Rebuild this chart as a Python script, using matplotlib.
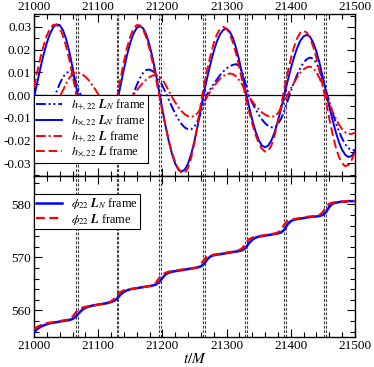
import numpy as np
import matplotlib
matplotlib.use("Agg")
import matplotlib.pyplot as plt
from matplotlib.ticker import MultipleLocator, FormatStrFormatter

plt.rcParams['font.family'] = 'Liberation Serif'
plt.rcParams['mathtext.fontset'] = 'stix'
plt.rcParams['axes.unicode_minus'] = False

t = np.arange(21000, 21501, 5)

hx_LN = [-0.0010, 0.0054, 0.0119, 0.0179, 0.0230, 0.0270, 0.0298, 0.0311, 0.0308, 0.0287,
         0.0247, 0.0191, 0.0123, 0.0047, -0.0024, -0.0081, -0.0133, -0.0178, -0.0212, -0.0233,
         -0.0240, -0.0233, -0.0212, -0.0178, -0.0133, -0.0081, -0.0024, 0.0043, 0.0113, 0.0176,
         0.0230, 0.0270, 0.0295, 0.0304, 0.0294, 0.0266, 0.0220, 0.0161, 0.0091, 0.0015,
         -0.0062, -0.0136, -0.0203, -0.0259, -0.0302, -0.0328, -0.0337, -0.0328, -0.0302, -0.0259,
         -0.0203, -0.0136, -0.0062, 0.0013, 0.0078, 0.0138, 0.0192, 0.0236, 0.0268, 0.0287,
         0.0292, 0.0279, 0.0251, 0.0206, 0.0150, 0.0085, 0.0014, -0.0049, -0.0108, -0.0158,
         -0.0197, -0.0222, -0.0230, -0.0222, -0.0199, -0.0163, -0.0115, -0.0060, 0.0000, 0.0059,
         0.0115, 0.0165, 0.0207, 0.0239, 0.0258, 0.0265, 0.0257, 0.0232, 0.0192, 0.0140,
         0.0079, 0.0014, -0.0049, -0.0107, -0.0161, -0.0206, -0.0241, -0.0263, -0.0273, -0.0268,
         -0.0248]

hx_L = [0.0034, 0.0102, 0.0164, 0.0218, 0.0262, 0.0293, 0.0309, 0.0310, 0.0295, 0.0262,
        0.0215, 0.0156, 0.0088, 0.0015, -0.0049, -0.0108, -0.0161, -0.0204, -0.0237, -0.0255,
        -0.0260, -0.0248, -0.0221, -0.0179, -0.0126, -0.0065, 0.0000, 0.0075, 0.0146, 0.0208,
        0.0258, 0.0292, 0.0308, 0.0307, 0.0288, 0.0253, 0.0203, 0.0142, 0.0073, 0.0000,
        -0.0071, -0.0138, -0.0200, -0.0254, -0.0296, -0.0326, -0.0342, -0.0343, -0.0321, -0.0275,
        -0.0209, -0.0128, -0.0037, 0.0043, 0.0112, 0.0174, 0.0227, 0.0267, 0.0292, 0.0300,
        0.0292, 0.0269, 0.0231, 0.0181, 0.0121, 0.0055, -0.0012, -0.0071, -0.0125, -0.0173,
        -0.0210, -0.0236, -0.0249, -0.0246, -0.0221, -0.0177, -0.0116, -0.0045, 0.0028, 0.0095,
        0.0157, 0.0210, 0.0250, 0.0275, 0.0283, 0.0275, 0.0252, 0.0214, 0.0164, 0.0105,
        0.0040, -0.0030, -0.0102, -0.0169, -0.0227, -0.0271, -0.0300, -0.0313, -0.0308, -0.0286,
        -0.0250]

hp_LN = [-0.0118, -0.0120, -0.0115, -0.0102, -0.0080, -0.0052, -0.0020, 0.0015, 0.0049, 0.0078,
         0.0097, 0.0103, 0.0092, 0.0062, 0.0019, -0.0016, -0.0042, -0.0067, -0.0088, -0.0106,
         -0.0119, -0.0127, -0.0130, -0.0128, -0.0122, -0.0112, -0.0098, -0.0082, -0.0062, -0.0041,
         -0.0018, 0.0007, 0.0043, 0.0074, 0.0098, 0.0111, 0.0112, 0.0105, 0.0090, 0.0068,
         0.0042, 0.0012, -0.0020, -0.0052, -0.0082, -0.0107, -0.0128, -0.0143, -0.0151, -0.0151,
         -0.0139, -0.0114, -0.0079, -0.0036, 0.0005, 0.0027, 0.0049, 0.0069, 0.0088, 0.0104,
         0.0117, 0.0127, 0.0133, 0.0136, 0.0128, 0.0096, 0.0047, -0.0006, -0.0034, -0.0061,
         -0.0086, -0.0107, -0.0124, -0.0136, -0.0142, -0.0142, -0.0129, -0.0104, -0.0069, -0.0027,
         0.0016, 0.0054, 0.0089, 0.0119, 0.0143, 0.0158, 0.0165, 0.0160, 0.0141, 0.0109,
         0.0068, 0.0020, -0.0028, -0.0075, -0.0119, -0.0158, -0.0191, -0.0217, -0.0234, -0.0242,
         -0.0242]

hp_L = [-0.0075, -0.0080, -0.0081, -0.0079, -0.0071, -0.0060, -0.0045, -0.0027, -0.0008, 0.0020,
        0.0050, 0.0075, 0.0092, 0.0100, 0.0098, 0.0092, 0.0081, 0.0066, 0.0047, 0.0027,
        0.0004, -0.0021, -0.0045, -0.0065, -0.0080, -0.0089, -0.0089, -0.0083, -0.0069, -0.0049,
        -0.0026, 0.0000, 0.0020, 0.0038, 0.0055, 0.0069, 0.0079, 0.0086, 0.0088, 0.0083,
        0.0068, 0.0046, 0.0018, -0.0009, -0.0032, -0.0053, -0.0071, -0.0085, -0.0093, -0.0096,
        -0.0092, -0.0079, -0.0059, -0.0034, -0.0006, 0.0017, 0.0037, 0.0056, 0.0072, 0.0084,
        0.0092, 0.0095, 0.0092, 0.0082, 0.0065, 0.0043, 0.0017, -0.0008, -0.0027, -0.0046,
        -0.0062, -0.0076, -0.0086, -0.0093, -0.0096, -0.0093, -0.0080, -0.0058, -0.0031, 0.0000,
        0.0028, 0.0054, 0.0078, 0.0098, 0.0113, 0.0122, 0.0125, 0.0119, 0.0101, 0.0074,
        0.0039, 0.0000, -0.0036, -0.0071, -0.0102, -0.0129, -0.0150, -0.0164, -0.0171, -0.0171,
        -0.0166]

phi_LN = [555.9, 556.5, 556.9, 557.2, 557.4, 557.6, 557.7, 557.8, 557.9, 558.0,
          558.1, 558.2, 558.4, 558.8, 559.5, 560.1, 560.5, 560.7, 560.9, 561.0,
          561.1, 561.2, 561.3, 561.4, 561.6, 561.8, 562.3, 563.0, 563.5, 563.8,
          564.0, 564.1, 564.2, 564.3, 564.4, 564.5, 564.6, 564.7, 564.9, 565.3,
          566.1, 566.8, 567.1, 567.3, 567.4, 567.5, 567.6, 567.7, 567.8, 567.9,
          568.0, 568.1, 568.3, 568.8, 569.6, 570.2, 570.4, 570.5, 570.6, 570.7,
          570.8, 570.9, 571.0, 571.1, 571.2, 571.4, 571.8, 572.7, 573.3, 573.7,
          573.9, 574.0, 574.1, 574.2, 574.3, 574.4, 574.5, 574.7, 575.2, 576.2,
          576.8, 577.1, 577.2, 577.3, 577.4, 577.5, 577.6, 577.7, 577.7, 577.8,
          578.0, 578.5, 579.5, 580.1, 580.3, 580.4, 580.5, 580.5, 580.6, 580.6,
          580.6]

phi_L = [556.5, 556.9, 557.2, 557.4, 557.6, 557.7, 557.8, 557.9, 558.0, 558.1,
         558.2, 558.4, 558.8, 559.6, 560.2, 560.5, 560.7, 560.8, 560.9, 561.0,
         561.1, 561.2, 561.3, 561.5, 561.7, 562.2, 563.0, 563.5, 563.8, 563.9,
         564.0, 564.1, 564.2, 564.3, 564.4, 564.5, 564.6, 564.8, 565.2, 566.1,
         566.8, 567.1, 567.3, 567.4, 567.5, 567.6, 567.7, 567.7, 567.8, 567.9,
         568.0, 568.2, 568.7, 569.6, 570.2, 570.4, 570.5, 570.6, 570.7, 570.8,
         570.9, 571.0, 571.1, 571.2, 571.4, 571.8, 572.7, 573.4, 573.7, 573.9,
         574.0, 574.1, 574.2, 574.3, 574.4, 574.5, 574.7, 575.2, 576.2, 576.8,
         577.1, 577.2, 577.3, 577.4, 577.5, 577.6, 577.7, 577.7, 577.8, 578.0,
         578.5, 579.5, 580.1, 580.3, 580.4, 580.5, 580.5, 580.6, 580.6, 580.6,
         580.6]

vlines_t = [21065, 21068.5, 21129, 21131.5, 21195, 21198, 21263, 21266,
            21329, 21332, 21389, 21392, 21452, 21455]

fig = plt.figure(figsize=(3.74, 3.67), dpi=100)
ax1 = fig.add_axes([0.0909, 0.520, 0.858, 0.442])
ax2 = fig.add_axes([0.0909, 0.0817, 0.858, 0.4383])

blue = '#0000ff'
red = '#ff0000'
lw = 1.4

ax1.axhline(0, color='black', lw=0.9, zorder=1)
for v in vlines_t:
    ax1.axvline(v, color='0.25', lw=0.8, ls=(0, (2.5, 1.5)), zorder=1)
    ax2.axvline(v, color='0.25', lw=0.8, ls=(0, (2.5, 1.5)), zorder=1)

ax1.plot(t, hp_LN, color=blue, lw=lw, ls=(0, (5, 1.5, 1, 1.5, 1, 1.5)),
         label=r'$h_{+,22}$ $\boldsymbol{L}_N$ frame', zorder=3)
ax1.plot(t, hx_LN, color=blue, lw=lw, ls='-',
         label=r'$h_{\times,22}$ $\boldsymbol{L}_N$ frame', zorder=3)
ax1.plot(t, hp_L, color=red, lw=lw, ls=(0, (5, 1.5, 1, 1.5)),
         label=r'$h_{+,22}$ $\boldsymbol{L}$ frame', zorder=3)
ax1.plot(t, hx_L, color=red, lw=lw, ls=(0, (4.5, 2)),
         label=r'$h_{\times,22}$ $\boldsymbol{L}$ frame', zorder=3)

ax2.plot(t, phi_LN, color=blue, lw=1.8, ls='-',
         label=r'$\phi_{22}$ $\boldsymbol{L}_N$ frame', zorder=3)
ax2.plot(t, phi_L, color=red, lw=1.6, ls=(0, (4, 2)),
         label=r'$\phi_{22}$ $\boldsymbol{L}$ frame', zorder=3)

ax1.set_xlim(21000, 21500)
ax2.set_xlim(21000, 21500)
ax1.set_ylim(-0.0357, 0.0357)
ax2.set_ylim(555, 585.3)

for ax in (ax1, ax2):
    ax.xaxis.set_major_locator(MultipleLocator(100))
    ax.xaxis.set_minor_locator(MultipleLocator(20))
    ax.tick_params(which='both', direction='in', top=True, right=True,
                   labelsize=9.5, width=0.8)
    ax.tick_params(which='major', length=6)
    ax.tick_params(which='minor', length=3.5)
    for s in ax.spines.values():
        s.set_linewidth(1.0)

ax1.yaxis.set_major_locator(MultipleLocator(0.01))
ax1.yaxis.set_minor_locator(MultipleLocator(0.005))
ax1.yaxis.set_major_formatter(FormatStrFormatter('%.2f'))
ax1.tick_params(axis='x', labeltop=True, labelbottom=False, pad=0.5)
ax1.tick_params(axis='y', pad=2)
ax2.tick_params(axis='y', pad=2)

ax2.yaxis.set_major_locator(MultipleLocator(10))
ax2.yaxis.set_minor_locator(MultipleLocator(2))
ax2.tick_params(axis='x', pad=2)
ax2.set_xlabel(r'$t/M$', fontsize=11, labelpad=0)

leg_kw = dict(fontsize=8.8, frameon=True, fancybox=False, edgecolor='black',
              framealpha=1, borderpad=0.2, labelspacing=0.02, handlelength=2.1,
              handletextpad=0.7, borderaxespad=0)

leg1 = ax1.legend(loc='upper left', bbox_to_anchor=(0.0, 0.5), **leg_kw)
leg1.get_frame().set_linewidth(0.8)
leg1.set_zorder(5)

leg2 = ax2.legend(loc='upper left', bbox_to_anchor=(0.0, 0.89), **leg_kw)
leg2.get_frame().set_linewidth(0.8)

fig.savefig('out.png', dpi=100)
